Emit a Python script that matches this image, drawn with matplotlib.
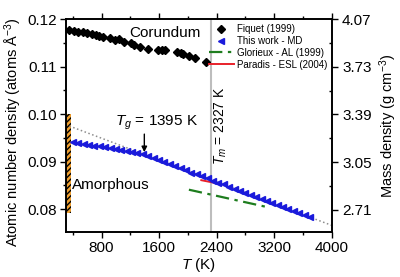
import matplotlib
matplotlib.use("Agg")
import matplotlib.pyplot as plt
from matplotlib.ticker import MultipleLocator, FixedLocator

plt.rcParams['font.family'] = ['Liberation Sans', 'DejaVu Sans']
plt.rcParams['mathtext.fontset'] = 'custom'
plt.rcParams['mathtext.rm'] = 'Liberation Sans'
plt.rcParams['mathtext.it'] = 'Liberation Sans:italic'
plt.rcParams['hatch.linewidth'] = 1.0

# Fiquet (1999) corundum data
fiquet_T = [350, 416, 476, 538, 602, 664, 724, 770, 822, 920, 990, 1041, 1116,
            1209, 1255, 1339, 1447, 1587, 1647, 1689, 1843, 1899, 1937, 2015, 2095, 2249]
fiquet_rho = [0.1177, 0.1175, 0.1173, 0.1172, 0.1170, 0.1168, 0.1167, 0.1165, 0.1163,
              0.1161, 0.1157, 0.1159, 0.1151, 0.1150, 0.1145, 0.1142, 0.1138, 0.1135,
              0.1135, 0.1135, 0.1130, 0.1128, 0.1126, 0.1122, 0.1119, 0.1110]

# This work - MD
md_T = [400, 475, 550, 625, 700, 775, 850, 925, 1000, 1075, 1150, 1225, 1300, 1375,
        1450, 1525, 1600, 1675, 1750, 1825, 1900, 1975, 2050, 2125, 2200, 2275, 2350,
        2425, 2500, 2575, 2650, 2725, 2800, 2875, 2950, 3025, 3100, 3175, 3250, 3325,
        3400, 3475, 3550, 3625, 3700]
md_rho = [0.0942, 0.0940, 0.0938, 0.0936, 0.0934, 0.0932, 0.0930, 0.0928, 0.0926,
          0.0924, 0.0922, 0.0920, 0.0918, 0.0916, 0.0912, 0.0908, 0.0903, 0.0899,
          0.0895, 0.0890, 0.0886, 0.0882, 0.0877, 0.0873, 0.0869, 0.0865, 0.0860,
          0.0856, 0.0852, 0.0847, 0.0843, 0.0839, 0.0834, 0.0830, 0.0826, 0.0822,
          0.0817, 0.0813, 0.0809, 0.0804, 0.0800, 0.0796, 0.0791, 0.0787, 0.0783]

# Linear fit of liquid (dotted)
fit_T = [300, 4000]
fit_rho = [0.0978, 0.0766]

# Glorieux - AL (1999)
glor_T = [2015, 3087]
glor_rho = [0.0841, 0.0805]

# Paradis - ESL (2004)
par_T = [2188, 2420]
par_rho = [0.0861, 0.0854]

# Amorphous band
amorph_T = [300, 370]
amorph_rho = [0.0792, 0.1000]

Tg = 1395
Tm = 2327
mass_factor = 4.07 / 0.12

left_ticks = [0.08, 0.09, 0.10, 0.11, 0.12]
right_ticks = [2.71, 3.05, 3.39, 3.73, 4.07]
x_ticks = [800, 1600, 2400, 3200, 4000]

fig = plt.figure(figsize=(4.0, 2.77), dpi=100)
ax = fig.add_axes([0.164, 0.1625, 0.665, 0.7685])

ax.axvline(Tm, color='#bdbdbd', lw=1.5, zorder=1)
ax.fill_between(amorph_T, amorph_rho[0], amorph_rho[1], facecolor='#f0a030',
                edgecolor='black', hatch='//////', lw=0, zorder=2)
ax.plot(fit_T, fit_rho, ls=':', color='#8c8c8c', lw=1.1, zorder=2)
ax.plot(fiquet_T, fiquet_rho, 'D', color='black', ms=3.8, ls='none',
        label='Fiquet (1999)', zorder=4)
ax.plot(md_T, md_rho, '<', color='#1a1adb', ms=4.0, ls='none',
        label='This work - MD', zorder=4)
ax.plot(glor_T, glor_rho, color='#1e7d1e', ls=(0, (6, 2.5, 1.5, 2.5)), lw=1.6,
        label='Glorieux - AL (1999)', zorder=3)
ax.plot(par_T, par_rho, color='#e8202a', lw=1.4, label='Paradis - ESL (2004)', zorder=3)

ax.set_xlim(300, 4000)
ax.set_ylim(0.0752, 0.12)
ax.xaxis.set_major_locator(FixedLocator(x_ticks))
ax.xaxis.set_minor_locator(MultipleLocator(400))
ax.yaxis.set_major_locator(FixedLocator(left_ticks))
ax.yaxis.set_minor_locator(MultipleLocator(0.005))
ax.set_yticklabels(['%.2f' % v for v in left_ticks])
ax.tick_params(axis='both', which='major', labelsize=11, length=4, width=1,
               direction='out', top=True, pad=2.5)
ax.tick_params(axis='both', which='minor', length=2.5, width=1, direction='out', top=True)
for s in ax.spines.values():
    s.set_linewidth(1.2)

ax.set_xlabel('$T$ (K)', fontsize=11, labelpad=1)
ax.set_ylabel('Atomic number density (atoms Å$^{-3}$)', fontsize=10.5)
ax.yaxis.set_label_coords(-0.158, 0.47)

ax2 = ax.twinx()
ax2.set_ylim(0.0752 * mass_factor, 0.12 * mass_factor)
ax2.yaxis.set_major_locator(FixedLocator(right_ticks))
ax2.yaxis.set_minor_locator(FixedLocator([2.88, 3.22, 3.56, 3.90]))
ax2.set_yticklabels(['%.2f' % v for v in right_ticks])
ax2.tick_params(axis='y', which='major', labelsize=11, length=4, width=1, direction='out')
ax2.tick_params(axis='y', which='minor', length=2.5, width=1, direction='in')
ax2.set_ylabel('Mass density (g cm$^{-3}$)', fontsize=10.5, labelpad=4)
for s in ax2.spines.values():
    s.set_linewidth(1.2)

ax.text(1180, 0.1170, 'Corundum', fontsize=11, ha='left', va='center', zorder=5)
ax.text(390, 0.0850, 'Amorphous', fontsize=11, ha='left', va='center', zorder=5)
ax.text(1560, 0.0981, '$T_g$ = 1395 K', fontsize=11, ha='center', va='center')
ax.annotate('', xy=(Tg, 0.0920), xytext=(Tg, 0.0958),
            arrowprops=dict(arrowstyle='-|>', color='black', lw=1.0,
                            mutation_scale=8, shrinkA=0, shrinkB=0))
ax.text(2460, 0.0894, '$T_m$ = 2327 K', fontsize=10, rotation=90,
        ha='center', va='bottom')

leg = ax.legend(loc='upper left', bbox_to_anchor=(0.52, 1.0), frameon=False,
                fontsize=7, handlelength=2.6, handletextpad=0.3,
                labelspacing=0.2, borderaxespad=0.2, borderpad=0.3)

fig.savefig('out.png', dpi=100)
